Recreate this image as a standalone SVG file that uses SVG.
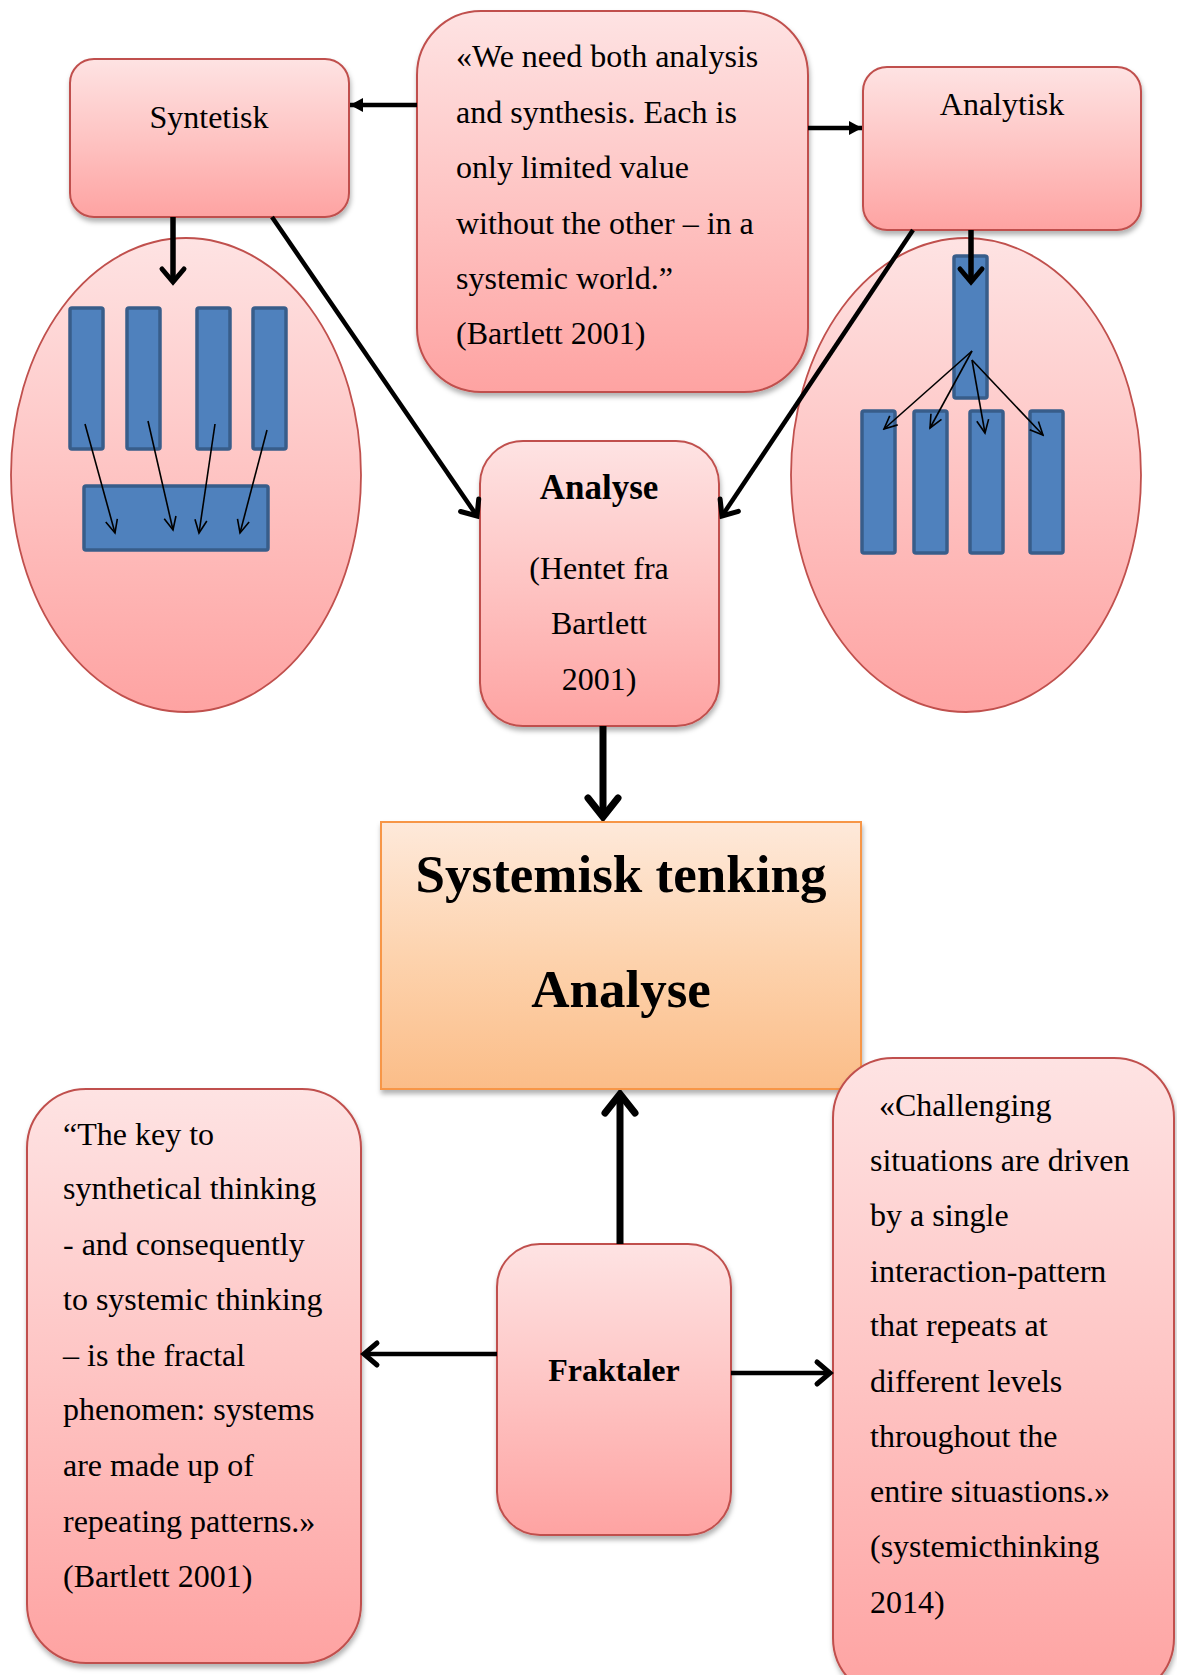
<svg xmlns="http://www.w3.org/2000/svg" width="1177" height="1675" viewBox="0 0 1177 1675">
  <defs>
    <linearGradient id="pink" x1="0" y1="0" x2="0" y2="1">
      <stop offset="0" stop-color="#fee3e3"/>
      <stop offset="0.5" stop-color="#fec4c3"/>
      <stop offset="1" stop-color="#fea3a2"/>
    </linearGradient>
    <linearGradient id="orange" x1="0" y1="0" x2="0" y2="1">
      <stop offset="0" stop-color="#fee9da"/>
      <stop offset="0.5" stop-color="#fdd3ae"/>
      <stop offset="1" stop-color="#fbbd88"/>
    </linearGradient>
    <filter id="shadow" x="-10%" y="-10%" width="120%" height="125%">
      <feDropShadow dx="1" dy="4" stdDeviation="2.5" flood-color="#000" flood-opacity="0.3"/>
    </filter>
    <marker id="chev" viewBox="-20 -16 24 32" markerWidth="24" markerHeight="32" refX="0" refY="0" orient="auto" markerUnits="userSpaceOnUse">
      <path d="M-13,-11 L0,0 L-13,11" fill="none" stroke="#000" stroke-width="5" stroke-linecap="round" stroke-linejoin="miter"/>
    </marker>
    <marker id="chevL" viewBox="-26 -22 30 44" markerWidth="30" markerHeight="44" refX="0" refY="0" orient="auto" markerUnits="userSpaceOnUse">
      <path d="M-19,-15 L0,0 L-19,15" fill="none" stroke="#000" stroke-width="7" stroke-linecap="round" stroke-linejoin="miter"/>
    </marker>
    <marker id="tri" viewBox="-16 -10 18 20" markerWidth="18" markerHeight="20" refX="0" refY="0" orient="auto" markerUnits="userSpaceOnUse">
      <path d="M-13,-7 L0,0 L-13,7 Z" fill="#000"/>
    </marker>
    <marker id="thin" viewBox="-16 -10 18 20" markerWidth="18" markerHeight="20" refX="0" refY="0" orient="auto" markerUnits="userSpaceOnUse">
      <path d="M-13,-6 L0,0 L-13,6" fill="none" stroke="#000" stroke-width="1.6"/>
    </marker>
  </defs>
  <style>
    .box { fill: url(#pink); stroke: #c0504d; stroke-width: 2; filter: url(#shadow); }
    .oval { fill: url(#pink); stroke: #c0504d; stroke-width: 1.8; }
    .main { fill: url(#orange); stroke: #f79646; stroke-width: 2; filter: url(#shadow); }
    .bar { fill: #4f81bd; stroke: #385d8a; stroke-width: 3.5; }
    text { font-family: "Liberation Serif", "Times New Roman", serif; fill: #000; }
    .t { font-size: 32px; }
    .c { text-anchor: middle; }
    .b { font-weight: bold; }
    .big { font-size: 53px; font-weight: bold; text-anchor: middle; }
    .thick { fill: none; stroke: #000; stroke-width: 4.5; }
    .heavy { fill: none; stroke: #000; stroke-width: 7; }
    .fine { fill: none; stroke: #000; stroke-width: 1.6; }
  </style>

  <rect width="1177" height="1675" fill="#fff"/>

  <!-- synthesis side: parts merging into a whole -->
  <g id="syntetisk-ellipse">
    <ellipse class="oval" cx="186" cy="475" rx="175" ry="237"/>
    <rect class="bar" x="70" y="308" width="33" height="141" rx="2"/>
    <rect class="bar" x="127" y="308" width="33" height="141" rx="2"/>
    <rect class="bar" x="197" y="308" width="33" height="141" rx="2"/>
    <rect class="bar" x="253" y="308" width="33" height="141" rx="2"/>
    <rect class="bar" x="84" y="486" width="184" height="64" rx="2"/>
  </g>

  <!-- analysis side: a whole split into parts -->
  <g id="analytisk-ellipse">
    <ellipse class="oval" cx="966" cy="475" rx="175" ry="237"/>
    <rect class="bar" x="954" y="256" width="33" height="142" rx="2"/>
    <rect class="bar" x="862" y="411" width="33" height="142" rx="2"/>
    <rect class="bar" x="914" y="411" width="33" height="142" rx="2"/>
    <rect class="bar" x="970" y="411" width="33" height="142" rx="2"/>
    <rect class="bar" x="1030" y="411" width="33" height="142" rx="2"/>
  </g>

  <g id="syntetisk">
    <rect class="box" x="70" y="59" width="279" height="158" rx="24"/>
    <text class="t c" x="209" y="128">Syntetisk</text>
  </g>

  <g id="quote-bartlett">
    <rect class="box" x="417" y="11" width="391" height="381" rx="64"/>
    <text class="t" x="456" y="67">«We need both analysis</text>
    <text class="t" x="456" y="123">and synthesis. Each is</text>
    <text class="t" x="456" y="178">only limited value</text>
    <text class="t" x="456" y="234">without the other – in a</text>
    <text class="t" x="456" y="289">systemic world.”</text>
    <text class="t" x="456" y="344">(Bartlett 2001)</text>
  </g>

  <g id="analytisk">
    <rect class="box" x="863" y="67" width="278" height="163" rx="24"/>
    <text class="t c" x="1002" y="115">Analytisk</text>
  </g>

  <g id="analyse">
    <rect class="box" x="480" y="441" width="239" height="285" rx="43"/>
    <text class="t c b" x="599" y="499" style="font-size:35px">Analyse</text>
    <text class="t c" x="599" y="579">(Hentet fra</text>
    <text class="t c" x="599" y="634">Bartlett</text>
    <text class="t c" x="599" y="690">2001)</text>
  </g>

  <g id="systemisk-tenking">
    <rect class="main" x="381" y="822" width="480" height="267"/>
    <text class="big" x="621" y="892">Systemisk tenking</text>
    <text class="big" x="621" y="1007">Analyse</text>
  </g>

  <g id="quote-fractal">
    <rect class="box" x="27" y="1089" width="334" height="574" rx="59"/>
    <text class="t" x="63" y="1145">“The key to</text>
    <text class="t" x="63" y="1199">synthetical thinking</text>
    <text class="t" x="63" y="1255">- and consequently</text>
    <text class="t" x="63" y="1310">to systemic thinking</text>
    <text class="t" x="63" y="1366">– is the fractal</text>
    <text class="t" x="63" y="1420">phenomen: systems</text>
    <text class="t" x="63" y="1476">are made up of</text>
    <text class="t" x="63" y="1532">repeating patterns.»</text>
    <text class="t" x="63" y="1587">(Bartlett 2001)</text>
  </g>

  <g id="fraktaler">
    <rect class="box" x="497" y="1244" width="234" height="291" rx="43"/>
    <text class="t c b" x="614" y="1381">Fraktaler</text>
  </g>

  <g id="quote-systemicthinking">
    <rect class="box" x="833" y="1058" width="341" height="640" rx="60"/>
    <text class="t" x="879" y="1116">«Challenging</text>
    <text class="t" x="870" y="1171">situations are driven</text>
    <text class="t" x="870" y="1226">by a single</text>
    <text class="t" x="870" y="1282">interaction-pattern</text>
    <text class="t" x="870" y="1336">that repeats at</text>
    <text class="t" x="870" y="1392">different levels</text>
    <text class="t" x="870" y="1447">throughout the</text>
    <text class="t" x="870" y="1502">entire situastions.»</text>
    <text class="t" x="870" y="1557">(systemicthinking</text>
    <text class="t" x="870" y="1613">2014)</text>
  </g>

  <g id="connectors">
    <!-- quote to both modes -->
    <line class="thick" x1="417" y1="105" x2="350" y2="105" marker-end="url(#tri)"/>
    <line class="thick" x1="808" y1="128" x2="862" y2="128" marker-end="url(#tri)"/>
    <!-- modes into their ellipses -->
    <line class="thick" x1="173" y1="217" x2="173" y2="282" style="stroke-width:5.5" marker-end="url(#chev)"/>
    <line class="thick" x1="971" y1="230" x2="971" y2="282" style="stroke-width:5.5" marker-end="url(#chev)"/>
    <!-- modes into Analyse -->
    <line class="thick" x1="272" y1="217" x2="477" y2="516" marker-end="url(#chev)"/>
    <line class="thick" x1="913" y1="230" x2="722" y2="516" marker-end="url(#chev)"/>
    <!-- Analyse down to the central box -->
    <line class="heavy" x1="603" y1="726" x2="603" y2="817" marker-end="url(#chevL)"/>
    <!-- Fraktaler up and sideways -->
    <line class="heavy" x1="620" y1="1244" x2="620" y2="1094" marker-end="url(#chevL)"/>
    <line class="thick" x1="497" y1="1354" x2="364" y2="1354" marker-end="url(#chev)"/>
    <line class="thick" x1="731" y1="1373" x2="830" y2="1373" marker-end="url(#chev)"/>
    <!-- parts merging -->
    <line class="fine" x1="85" y1="424" x2="115" y2="533" marker-end="url(#thin)"/>
    <line class="fine" x1="148" y1="421" x2="173" y2="530" marker-end="url(#thin)"/>
    <line class="fine" x1="215" y1="424" x2="199" y2="533" marker-end="url(#thin)"/>
    <line class="fine" x1="267" y1="430" x2="240" y2="533" marker-end="url(#thin)"/>
    <!-- whole splitting -->
    <line class="fine" x1="972" y1="351" x2="884" y2="429" marker-end="url(#thin)"/>
    <line class="fine" x1="972" y1="351" x2="930" y2="428" marker-end="url(#thin)"/>
    <line class="fine" x1="972" y1="360" x2="985" y2="433" marker-end="url(#thin)"/>
    <line class="fine" x1="972" y1="360" x2="1043" y2="435" marker-end="url(#thin)"/>
  </g>
</svg>
